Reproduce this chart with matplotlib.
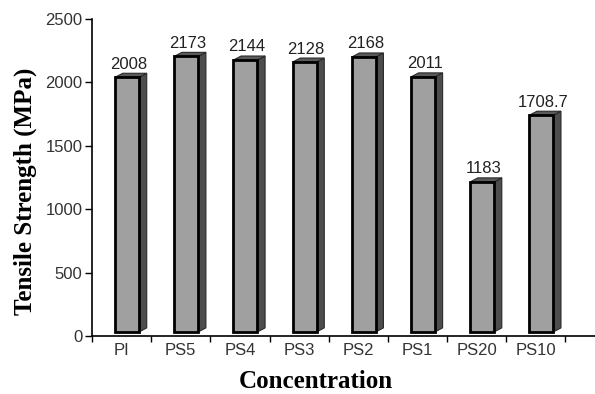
import matplotlib.pyplot as plt
from matplotlib.patches import Polygon

categories = ["PI", "PS5", "PS4", "PS3", "PS2", "PS1", "PS20", "PS10"]
strength = [2008, 2173, 2144, 2128, 2168, 2011, 1183, 1708.7]
labels = ["2008", "2173", "2144", "2128", "2168", "2011", "1183", "1708.7"]
y_ticks = [0, 500, 1000, 1500, 2000, 2500]

fig = plt.figure(figsize=(5.95, 3.94), dpi=100)
ax = fig.add_axes([0.1546, 0.1472, 0.8454, 0.8046])

# fake 3d bars: front face, side face and top face
x_off = -0.11
width = 0.405
dx = 0.13
dy = 32

for i, v in enumerate(strength):
    x0 = i + x_off
    x1 = x0 + width
    side = Polygon([(x1, dy), (x1 + dx, 2 * dy), (x1 + dx, v + 2 * dy), (x1, v + dy)],
                   closed=True, facecolor="#4d4d4d", edgecolor="#2a2a2a", lw=0.8, zorder=2)
    top = Polygon([(x0, v + dy), (x0 + dx, v + 2 * dy), (x1 + dx, v + 2 * dy), (x1, v + dy)],
                  closed=True, facecolor="#5a5a5a", edgecolor="#2a2a2a", lw=0.8, zorder=2)
    ax.add_patch(side)
    ax.add_patch(top)
    ax.bar(x0, v, width=width, bottom=dy, align="edge", color="#a0a0a0",
           edgecolor="black", linewidth=2.0, zorder=3)
    ax.text(i + 0.12, v + 2 * dy + 12, labels[i], ha="center", va="bottom",
            fontsize=12, family="Liberation Sans", color="#222222")

ax.set_xlim(-0.5, 8.0)
ax.set_ylim(0, 2500)

ax.set_xticks(range(len(categories)))
ax.set_xticklabels(categories, family="Liberation Sans", fontsize=12, color="#333333")
ax.set_xticks([k - 0.5 for k in range(len(categories) + 1)], minor=True)
ax.tick_params(axis="x", which="major", length=0, pad=5)
ax.tick_params(axis="x", which="minor", length=4, width=1, direction="out")

ax.set_yticks(y_ticks)
ax.set_yticklabels([str(t) for t in y_ticks], family="Liberation Sans", fontsize=12, color="#333333")
ax.tick_params(axis="y", length=5, width=1, direction="out", pad=2)

for s in ["top", "right"]:
    ax.spines[s].set_visible(False)
ax.spines["left"].set_linewidth(1.2)
ax.spines["bottom"].set_linewidth(1.2)

fig.text(0.043, 0.515, "Tensile Strength (MPa)", rotation=90, ha="center", va="center",
         family="Liberation Serif", fontweight="bold", fontsize=18)
fig.text(0.531, 0.032, "Concentration", ha="center", va="center",
         family="Liberation Serif", fontweight="bold", fontsize=18)

fig.savefig("out.png", dpi=100)
